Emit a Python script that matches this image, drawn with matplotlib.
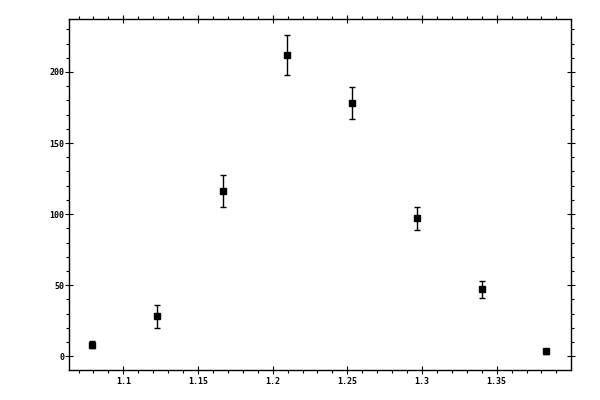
import numpy as np
import matplotlib
matplotlib.use("Agg")
import matplotlib.pyplot as plt
from matplotlib.ticker import MultipleLocator, FormatStrFormatter

# data
x = [1.0792, 1.1228, 1.1664, 1.2099, 1.2528, 1.2964, 1.3399, 1.3833]
y = [8.2, 28.3, 116.0, 211.7, 178.0, 97.1, 47.1, 3.5]
yerr = [2.5, 8.1, 11.3, 14.1, 11.3, 8.1, 6.0, 1.5]

plt.rcParams['font.family'] = ['DejaVu Sans Mono', 'DejaVu Sans']

fig = plt.figure(figsize=(6, 4), dpi=100)
ax = fig.add_axes([0.115, 0.075, 0.836, 0.877])

ax.errorbar(x, y, yerr=yerr, fmt='s', color='black', ms=5, mec='black',
            elinewidth=1.0, capsize=2.2, capthick=1.0)

ax.set_xlim(1.0636, 1.3995)
ax.set_ylim(-9.6, 237.1)

ax.xaxis.set_major_locator(MultipleLocator(0.05))
ax.xaxis.set_minor_locator(MultipleLocator(0.01))
ax.yaxis.set_major_locator(MultipleLocator(50))
ax.yaxis.set_minor_locator(MultipleLocator(10))
ax.xaxis.set_major_formatter(FormatStrFormatter('%g'))
ax.yaxis.set_major_formatter(FormatStrFormatter('%g'))

ax.tick_params(which='major', direction='inout', length=5.8, width=0.8,
               top=True, right=True, labelsize=6)
ax.tick_params(which='minor', direction='out', length=2.4, width=0.8,
               top=True, right=True)
ax.tick_params(axis='y', which='major', pad=0.5)
ax.tick_params(axis='x', which='major', pad=2.5)
for lab in ax.get_xticklabels() + ax.get_yticklabels():
    lab.set_fontweight('bold')

for s in ax.spines.values():
    s.set_linewidth(1.0)

fig.savefig('out.png', dpi=100)
